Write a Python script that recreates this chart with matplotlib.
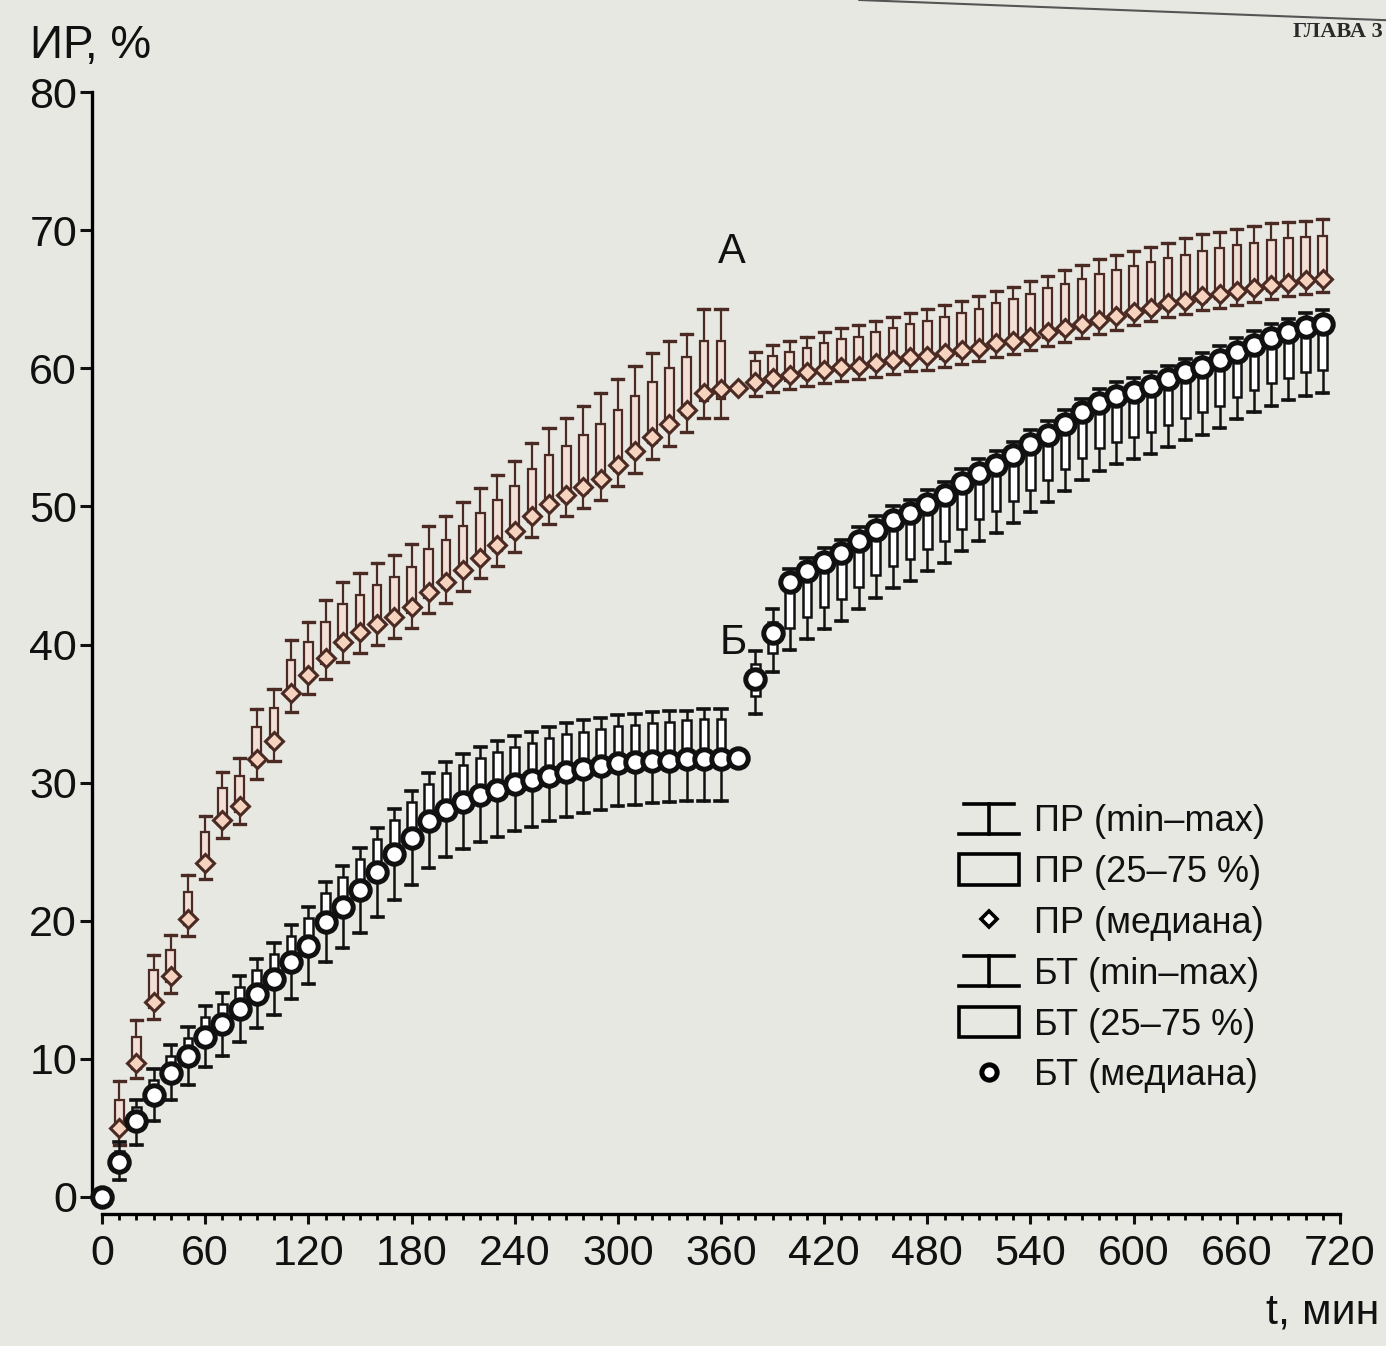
import matplotlib
matplotlib.use("Agg")
import matplotlib.pyplot as plt
import matplotlib.patches as mpatches
from matplotlib.lines import Line2D
from matplotlib.legend_handler import HandlerBase

plt.rcParams['font.family'] = ['Liberation Sans', 'DejaVu Sans']

# ---------------- data ----------------
pr_t = [10, 20, 30, 40, 50, 60, 70, 80, 90, 100,
        110, 120, 130, 140, 150, 160, 170, 180, 190, 200,
        210, 220, 230, 240, 250, 260, 270, 280, 290, 300,
        310, 320, 330, 340, 350, 360, 370, 380, 390, 400,
        410, 420, 430, 440, 450, 460, 470, 480, 490, 500,
        510, 520, 530, 540, 550, 560, 570, 580, 590, 600,
        610, 620, 630, 640, 650, 660, 670, 680, 690, 700, 710]
pr_med = [5.0, 9.7, 14.1, 16.0, 20.1, 24.2, 27.3, 28.3, 31.7, 33.0,
          36.5, 37.8, 39.0, 40.2, 40.9, 41.5, 42.0, 42.7, 43.8, 44.5,
          45.4, 46.3, 47.2, 48.2, 49.3, 50.2, 50.8, 51.4, 52.0, 53.0,
          54.0, 55.0, 56.0, 57.0, 58.2, 58.5, 58.6, 59.0, 59.3, 59.5,
          59.7, 59.9, 60.1, 60.2, 60.4, 60.6, 60.8, 60.9, 61.1, 61.3,
          61.5, 61.8, 62.0, 62.3, 62.6, 62.9, 63.2, 63.5, 63.8, 64.1,
          64.4, 64.7, 64.9, 65.2, 65.4, 65.6, 65.8, 66.0, 66.2, 66.4, 66.5]
pr_q1 = [4.6, 9.3, 13.7, 15.6, 19.7, 23.8, 26.9, 27.9, 31.3, 32.6,
         36.1, 37.4, 38.6, 39.8, 40.5, 41.1, 41.6, 42.3, 43.4, 44.1,
         45.0, 45.9, 46.8, 47.8, 48.9, 49.8, 50.4, 51.0, 51.6, 52.6,
         53.6, 54.6, 55.6, 56.6, 57.6, 57.8, 58.6, 58.6, 58.9, 59.1,
         59.3, 59.5, 59.7, 59.8, 60.0, 60.2, 60.4, 60.5, 60.7, 60.9,
         61.1, 61.4, 61.6, 61.9, 62.2, 62.5, 62.8, 63.1, 63.4, 63.7,
         64.0, 64.3, 64.5, 64.8, 65.0, 65.2, 65.4, 65.6, 65.8, 66.0, 66.1]
pr_q3 = [7.0, 11.6, 16.4, 17.9, 22.1, 26.4, 29.6, 30.5, 34.0, 35.4,
         38.9, 40.2, 41.6, 42.9, 43.6, 44.3, 44.9, 45.6, 46.9, 47.6,
         48.6, 49.5, 50.5, 51.5, 52.7, 53.7, 54.4, 55.2, 56.0, 57.0,
         58.0, 59.0, 60.0, 60.8, 62.0, 62.0, 58.6, 60.5, 60.9, 61.2,
         61.5, 61.8, 62.1, 62.3, 62.6, 62.9, 63.2, 63.4, 63.7, 64.0,
         64.3, 64.7, 65.0, 65.4, 65.8, 66.1, 66.5, 66.8, 67.1, 67.4,
         67.7, 68.0, 68.2, 68.5, 68.7, 68.9, 69.1, 69.3, 69.4, 69.5, 69.6]
pr_min = [3.8, 8.6, 12.9, 14.8, 18.9, 23.0, 26.0, 27.0, 30.3, 31.6,
          35.1, 36.4, 37.5, 38.7, 39.4, 40.0, 40.5, 41.2, 42.3, 43.0,
          43.9, 44.8, 45.7, 46.7, 47.8, 48.7, 49.3, 49.9, 50.5, 51.5,
          52.4, 53.4, 54.4, 55.4, 56.4, 56.4, 58.6, 58.0, 58.3, 58.5,
          58.7, 58.9, 59.1, 59.2, 59.4, 59.6, 59.8, 59.9, 60.1, 60.3,
          60.5, 60.8, 61.0, 61.3, 61.6, 61.9, 62.2, 62.5, 62.8, 63.1,
          63.4, 63.7, 63.9, 64.2, 64.4, 64.6, 64.8, 65.0, 65.2, 65.4, 65.5]
pr_max = [8.4, 12.8, 17.5, 19.0, 23.3, 27.6, 30.8, 31.8, 35.3, 36.8,
          40.3, 41.6, 43.2, 44.5, 45.2, 45.9, 46.5, 47.3, 48.6, 49.3,
          50.3, 51.3, 52.3, 53.3, 54.6, 55.7, 56.4, 57.3, 58.2, 59.2,
          60.2, 61.1, 62.0, 62.5, 64.3, 64.3, 58.6, 61.2, 61.7, 62.0,
          62.3, 62.6, 62.9, 63.1, 63.4, 63.7, 64.0, 64.3, 64.6, 64.9,
          65.2, 65.6, 65.9, 66.3, 66.7, 67.1, 67.5, 67.9, 68.2, 68.5,
          68.8, 69.1, 69.4, 69.7, 69.9, 70.1, 70.3, 70.5, 70.6, 70.7, 70.8]

bt_t = [0, 10, 20, 30, 40, 50, 60, 70, 80, 90,
        100, 110, 120, 130, 140, 150, 160, 170, 180, 190,
        200, 210, 220, 230, 240, 250, 260, 270, 280, 290,
        300, 310, 320, 330, 340, 350, 360, 370, 380, 390,
        400, 410, 420, 430, 440, 450, 460, 470, 480, 490,
        500, 510, 520, 530, 540, 550, 560, 570, 580, 590,
        600, 610, 620, 630, 640, 650, 660, 670, 680, 690, 700, 710]
bt_med = [0.0, 2.5, 5.5, 7.4, 9.0, 10.2, 11.6, 12.5, 13.6, 14.7,
          15.8, 17.0, 18.2, 19.9, 21.0, 22.2, 23.5, 24.8, 26.0, 27.2,
          28.0, 28.6, 29.1, 29.5, 29.9, 30.2, 30.5, 30.8, 31.0, 31.2,
          31.4, 31.5, 31.6, 31.6, 31.7, 31.7, 31.7, 31.8, 37.5, 40.8,
          44.5, 45.3, 46.0, 46.6, 47.5, 48.3, 49.0, 49.5, 50.2, 50.8,
          51.7, 52.4, 53.0, 53.7, 54.5, 55.2, 56.0, 56.8, 57.5, 58.0,
          58.3, 58.7, 59.2, 59.7, 60.1, 60.6, 61.2, 61.7, 62.2, 62.6, 63.0, 63.2]
bt_q1 = [0.0, 2.2, 5.2, 7.1, 8.7, 9.9, 11.3, 12.2, 13.3, 14.4,
         15.5, 16.7, 17.9, 19.6, 20.7, 21.9, 23.2, 24.5, 25.7, 26.9,
         27.7, 28.3, 28.8, 29.2, 29.6, 29.9, 30.2, 30.5, 30.7, 30.9,
         31.1, 31.2, 31.3, 31.3, 31.4, 31.4, 31.4, 31.8, 36.3, 39.4,
         41.2, 42.0, 42.7, 43.3, 44.2, 45.0, 45.7, 46.2, 46.9, 47.5,
         48.4, 49.1, 49.7, 50.4, 51.2, 51.9, 52.7, 53.5, 54.2, 54.7,
         55.0, 55.4, 55.9, 56.4, 56.8, 57.3, 57.9, 58.4, 58.9, 59.3, 59.7, 59.9]
bt_q3 = [0.0, 3.3, 6.5, 8.5, 10.2, 11.5, 13.0, 14.0, 15.2, 16.4,
         17.6, 18.9, 20.2, 22.0, 23.2, 24.5, 25.9, 27.3, 28.6, 29.9,
         30.7, 31.3, 31.8, 32.2, 32.6, 32.9, 33.2, 33.5, 33.7, 33.9,
         34.1, 34.2, 34.3, 34.4, 34.5, 34.6, 34.6, 31.8, 38.6, 41.6,
         44.8, 45.6, 46.3, 46.9, 47.8, 48.6, 49.3, 49.8, 50.5, 51.1,
         52.0, 52.7, 53.3, 54.0, 54.8, 55.5, 56.3, 57.1, 57.8, 58.3,
         58.6, 59.0, 59.5, 60.0, 60.4, 60.9, 61.5, 62.0, 62.5, 62.9, 63.3, 63.5]
bt_min = [0.0, 1.2, 3.8, 5.5, 7.0, 8.1, 9.4, 10.2, 11.2, 12.2,
          13.2, 14.3, 15.4, 17.0, 18.0, 19.1, 20.3, 21.5, 22.6, 23.8,
          24.6, 25.2, 25.7, 26.1, 26.5, 26.8, 27.2, 27.5, 27.8, 28.0,
          28.3, 28.4, 28.5, 28.6, 28.7, 28.7, 28.7, 31.8, 35.0, 38.0,
          39.6, 40.4, 41.1, 41.7, 42.6, 43.4, 44.1, 44.6, 45.3, 45.9,
          46.8, 47.5, 48.1, 48.8, 49.6, 50.3, 51.1, 51.9, 52.6, 53.1,
          53.4, 53.8, 54.3, 54.8, 55.2, 55.7, 56.3, 56.8, 57.3, 57.7, 58.0, 58.2]
bt_max = [0.0, 4.0, 7.0, 9.3, 11.0, 12.3, 13.8, 14.8, 16.0, 17.2,
          18.4, 19.7, 21.0, 22.8, 24.0, 25.3, 26.7, 28.1, 29.4, 30.7,
          31.5, 32.1, 32.6, 33.0, 33.4, 33.7, 34.0, 34.3, 34.5, 34.7,
          34.9, 35.0, 35.1, 35.2, 35.2, 35.3, 35.3, 31.8, 39.5, 42.6,
          45.5, 46.3, 47.0, 47.6, 48.5, 49.3, 50.0, 50.5, 51.2, 51.8,
          52.7, 53.4, 54.0, 54.7, 55.5, 56.2, 57.0, 57.8, 58.5, 59.0,
          59.3, 59.7, 60.2, 60.7, 61.1, 61.6, 62.2, 62.7, 63.2, 63.6, 64.0, 64.2]

x_ticks = [0, 60, 120, 180, 240, 300, 360, 420, 480, 540, 600, 660, 720]
y_ticks = [0, 10, 20, 30, 40, 50, 60, 70, 80]
legend_labels = ["ПР (min–max)", "ПР (25–75 %)", "ПР (медиана)",
                 "БТ (min–max)", "БТ (25–75 %)", "БТ (медиана)"]

# ---------------- styles ----------------
BG = '#e8e8e3'
PR_EDGE = '#4a2a22'
PR_BOX = '#f2e0d8'
PR_MARK = '#f5d3bf'
BT_EDGE = '#111111'

fig = plt.figure(figsize=(13.86, 13.46), dpi=100, facecolor=BG)
ax = fig.add_axes([0.0736, 0.1107, 0.8932, 0.8209])
ax.set_facecolor(BG)
ax.patch.set_visible(False)


def make_stats(med, q1, q3, lo, hi):
    return [dict(med=m, q1=a, q3=b, whislo=l, whishi=h)
            for m, a, b, l, h in zip(med, q1, q3, lo, hi)]


# PR series
ax.bxp(make_stats(pr_med, pr_q1, pr_q3, pr_min, pr_max), positions=pr_t,
       widths=5, capwidths=6.5, showfliers=False, patch_artist=True,
       manage_ticks=False,
       boxprops=dict(facecolor=PR_BOX, edgecolor=PR_EDGE, linewidth=1.6),
       whiskerprops=dict(color=PR_EDGE, linewidth=1.6),
       capprops=dict(color=PR_EDGE, linewidth=2.4),
       medianprops=dict(linewidth=0))
ax.plot(pr_t, pr_med, ls='none', marker='D', ms=9.5, mfc=PR_MARK,
        mec=PR_EDGE, mew=2.2, clip_on=False, zorder=4)

# BT series
ax.bxp(make_stats(bt_med, bt_q1, bt_q3, bt_min, bt_max), positions=bt_t,
       widths=5, capwidths=6.5, showfliers=False, patch_artist=True,
       manage_ticks=False,
       boxprops=dict(facecolor='white', edgecolor=BT_EDGE, linewidth=1.8),
       whiskerprops=dict(color=BT_EDGE, linewidth=1.8),
       capprops=dict(color=BT_EDGE, linewidth=2.6),
       medianprops=dict(linewidth=0))
for coll in ax.patches[-len(bt_t):]:
    coll.set_zorder(5)
ax.plot(bt_t, bt_med, ls='none', marker='o', ms=14, mfc='white',
        mec=BT_EDGE, mew=3.6, clip_on=False, zorder=6)

# ---------------- axes ----------------
ax.set_xlim(0, 720)
ax.set_ylim(0, 80)
for s in ['top', 'right']:
    ax.spines[s].set_visible(False)
ax.spines['left'].set_position(('outward', 7))
ax.spines['bottom'].set_position(('outward', 12))
ax.spines['left'].set_linewidth(2.4)
ax.spines['bottom'].set_linewidth(2.4)
ax.spines['left'].set_bounds(0, 80)
ax.spines['bottom'].set_bounds(0, 720)

ax.set_xticks(x_ticks)
ax.set_xticks(list(range(0, 721, 10)), minor=True)
ax.set_yticks(y_ticks)
ax.tick_params(axis='x', which='major', length=7, width=2.2, pad=8,
               labelsize=31, colors='#111111')
ax.tick_params(axis='x', which='minor', length=4, width=2.0)
ax.tick_params(axis='y', which='major', length=9, width=2.2, pad=2,
               labelsize=31, colors='#111111')

fig.text(0.022, 0.966, "ИР, %", fontsize=33, color='#111111',
         ha='left', va='center')
fig.text(0.995, 0.025, "t, мин", fontsize=31, color='#111111',
         ha='right', va='center')

ax.text(366, 68.4, "А", fontsize=30, ha='center', va='center', color='#111111')
ax.text(367, 40.1, "Б", fontsize=30, ha='center', va='center', color='#111111')

# page header
fig.text(0.998, 0.976, "ГЛАВА 3", fontsize=16, fontweight='bold',
         family='Liberation Serif', ha='right', va='center', color='#2a2a2a')
fig.add_artist(Line2D([0.62, 1.0], [1.0, 0.985], transform=fig.transFigure,
                      color='#555555', linewidth=1.5))


# ---------------- legend ----------------
class HandlerMinMax(HandlerBase):
    def create_artists(self, legend, orig_handle, xdescent, ydescent,
                       width, height, fontsize, trans):
        x0, y0 = -xdescent, -ydescent
        cx = x0 + width / 2
        lw = 2.6
        top = Line2D([x0 + 0.08 * width, x0 + 0.92 * width],
                     [y0 + height, y0 + height], color='black', lw=lw)
        bot = Line2D([x0, x0 + width], [y0, y0], color='black', lw=lw)
        mid = Line2D([cx, cx], [y0, y0 + height], color='black', lw=lw)
        for a in (top, bot, mid):
            a.set_transform(trans)
        return [top, bot, mid]


class MinMaxHandle:
    pass


h_mm1 = MinMaxHandle()
h_mm2 = MinMaxHandle()
h_box1 = mpatches.Rectangle((0, 0), 1, 1, facecolor='none',
                            edgecolor='black', linewidth=2.6)
h_box2 = mpatches.Rectangle((0, 0), 1, 1, facecolor='none',
                            edgecolor='black', linewidth=2.6)
h_d = Line2D([], [], ls='none', marker='D', ms=8, mfc='white',
             mec='black', mew=2.6)
h_o = Line2D([], [], ls='none', marker='o', ms=11, mfc='white',
             mec='black', mew=3.6)

leg = ax.legend([h_mm1, h_box1, h_d, h_mm2, h_box2, h_o], legend_labels,
                handler_map={MinMaxHandle: HandlerMinMax()},
                loc='upper left', bbox_to_anchor=(0.692, 0.403),
                bbox_transform=fig.transFigure, frameon=False,
                fontsize=26, handlelength=1.65, handleheight=0.92,
                handletextpad=0.42, labelspacing=0.42, borderpad=0,
                borderaxespad=0)
for txt in leg.get_texts():
    txt.set_color('#111111')

fig.savefig("out.png", dpi=100, facecolor=BG)
